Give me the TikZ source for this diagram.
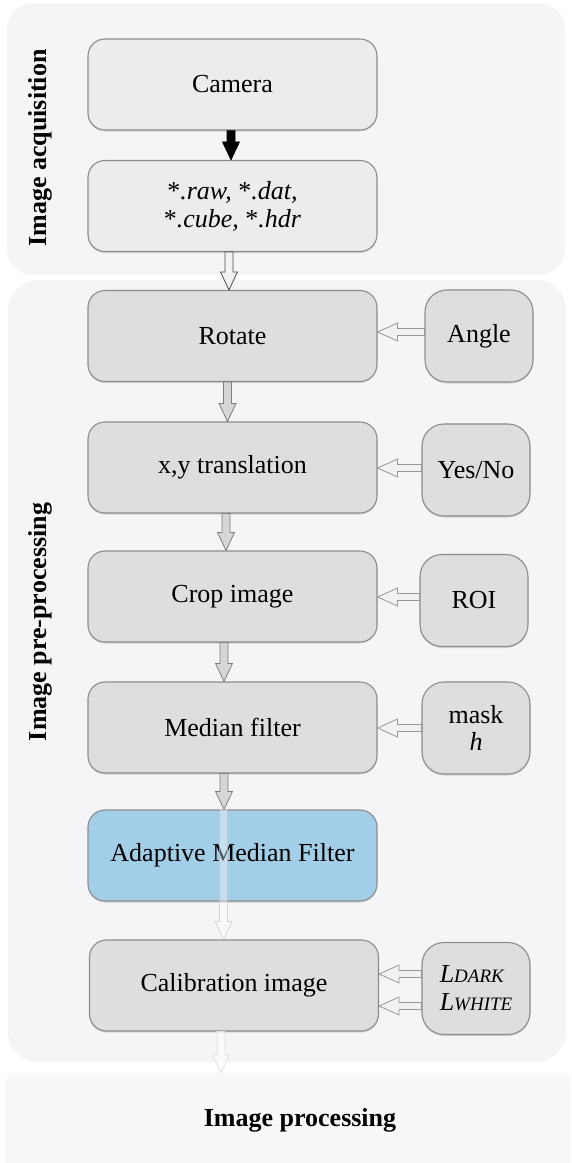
\documentclass[tikz,border=0pt]{standalone}
\usepackage{fontspec}
\setmainfont{LiberationSerif}[Extension=.ttf, UprightFont=*-Regular, BoldFont=*-Bold, ItalicFont=*-Italic, BoldItalicFont=*-BoldItalic]
\usetikzlibrary{shadows,calc}
\definecolor{panelbg}{RGB}{243,245,247}
\definecolor{procbg}{RGB}{247,248,249}
\definecolor{boxlight}{RGB}{236,236,236}
\definecolor{boxgray}{RGB}{222,222,222}
\definecolor{boxline}{RGB}{140,140,140}
\definecolor{boxblue}{RGB}{163,206,232}
\definecolor{arrline}{RGB}{125,125,125}
\definecolor{arrfill}{RGB}{214,214,214}
\definecolor{sidefill}{RGB}{242,242,242}
\newcommand\varrow[3]{\path[#1] let \p1=(#2), \p2=(#3) in
  (\x1-4pt,\y1) -- (\x1-4pt,\y2+18pt) -- (\x1-8.5pt,\y2+18pt) -- (\x1,\y2)
  -- (\x1+8.5pt,\y2+18pt) -- (\x1+4pt,\y2+18pt) -- (\x1+4pt,\y1) -- cycle;}
\newcommand\harrow[3]{\path[#1] let \p1=(#2), \p2=(#3) in
  (\x1,\y1+3.5pt) -- (\x2+20pt,\y1+3.5pt) -- (\x2+20pt,\y1+9pt) -- (\x2,\y1)
  -- (\x2+20pt,\y1-9pt) -- (\x2+20pt,\y1-3.5pt) -- (\x1,\y1-3.5pt) -- cycle;}
\tikzset{
  panel/.style={fill=panelbg, draw=none, rounded corners=26pt, inner sep=0pt},
  procpanel/.style={fill=procbg, draw=none, rounded corners=10pt, inner sep=0pt},
  boxbase/.style={draw=boxline, line width=1.1pt, inner sep=0pt, align=center,
    drop shadow={shadow xshift=0pt, shadow yshift=-1.5pt, opacity=0.28}},
  mainbox/.style={boxbase, rounded corners=17pt, minimum width=289pt, minimum height=91pt, fill=boxgray},
  acqbox/.style={mainbox, fill=boxlight},
  bluebox/.style={mainbox, fill=boxblue},
  sidebox/.style={boxbase, rounded corners=22pt, minimum width=108pt, minimum height=92pt, fill=boxgray},
  sectlabel/.style={font=\fontsize{26}{30}\selectfont\bfseries},
  blackarr/.style={fill=black, draw=black, line width=0.6pt},
  hollowarr/.style={fill=sidefill, draw=black!70, line width=0.8pt},
  grayarr/.style={fill=arrfill, draw=arrline, line width=0.8pt},
  sidearr/.style={fill=sidefill, draw=arrline!80, line width=0.8pt},
  ghostarr/.style={fill=white, fill opacity=0.35, draw=black!25, draw opacity=0.6, line width=0.8pt},
  faintarr/.style={fill=white, fill opacity=0.4, draw=black!12, line width=0.8pt},
}
\begin{document}
\begin{tikzpicture}[x=1pt, y=-1pt, font=\fontsize{26}{28}\selectfont]
\useasboundingbox (0,0) rectangle (572,1163);
\fill[white] (0,0) rectangle (572,1163);
% panels
\node[panel, minimum width=558pt, minimum height=272pt] (acqpanel) at (286,139) {};
\node[panel, rounded corners=30pt, minimum width=558pt, minimum height=782pt] (prepanel) at (287,671) {};
\node[procpanel, minimum width=566pt, minimum height=110pt] (proc) at (288,1128) {};
\node[sectlabel, rotate=90] (lacq) at (40,148) {Image acquisition};
\node[sectlabel, rotate=90] (lpre) at (40,622) {Image pre-processing};
\node[sectlabel] (lproc) at (300,1120) {Image processing};
% main boxes
\node[acqbox] (camera) at (232.5,84.5) {Camera};
\node[acqbox] (files) at (232.5,206) {*\textit{.raw,} *\textit{.dat,}\\*\textit{.cube,} *\textit{.hdr}};
\node[mainbox] (rotate) at (232.5,336) {Rotate};
\node[mainbox] (xy) at (232.5,467.5) {x,y translation};
\node[mainbox] (crop) at (232.5,596.5) {Crop image};
\node[mainbox] (median) at (232.5,727.5) {Median filter};
\node[bluebox] (adaptive) at (232.5,855.5) {Adaptive Median Filter};
\node[mainbox] (calib) at (234,985.5) {Calibration image};
% side boxes
\node[sidebox] (angle) at (479,336) {Angle};
\node[sidebox] (yesno) at (476,470) {Yes/No};
\node[sidebox] (roi) at (474,600.5) {ROI};
\node[sidebox] (mask) at (476,728) {mask\\[-1pt]\textit{h}};
\node[sidebox, align=left] (lref) at (476,988.5) {\textit{L}{\fontsize{19}{20}\selectfont\textit{DARK}}\\[0pt]\textit{L}{\fontsize{19}{20}\selectfont\textit{WHITE}}};
% vertical arrows
\varrow{blackarr}{[xshift=-1.5pt]camera.south}{files.north}
\varrow{hollowarr}{[xshift=-3.5pt]files.south}{rotate.north}
\varrow{grayarr}{[xshift=-5pt]rotate.south}{xy.north}
\varrow{grayarr}{[xshift=-6.5pt]xy.south}{crop.north}
\varrow{grayarr}{[xshift=-8.5pt]crop.south}{median.north}
\varrow{grayarr}{[xshift=-8.5pt]median.south}{adaptive.north}
\varrow{ghostarr}{[xshift=-9pt]adaptive.north}{calib.north}
\varrow{faintarr}{[xshift=-13pt]calib.south}{proc.north}
% side arrows
\harrow{sidearr}{[yshift=4pt]angle.west}{rotate.east}
\harrow{sidearr}{[yshift=2pt]yesno.west}{xy.east}
\harrow{sidearr}{[yshift=3.5pt]roi.west}{crop.east}
\harrow{sidearr}{mask.west}{median.east}
\harrow{sidearr}{[yshift=14.5pt]lref.west}{calib.east}
\harrow{sidearr}{[yshift=-17.5pt]lref.west}{calib.east}
\end{tikzpicture}
\end{document}
